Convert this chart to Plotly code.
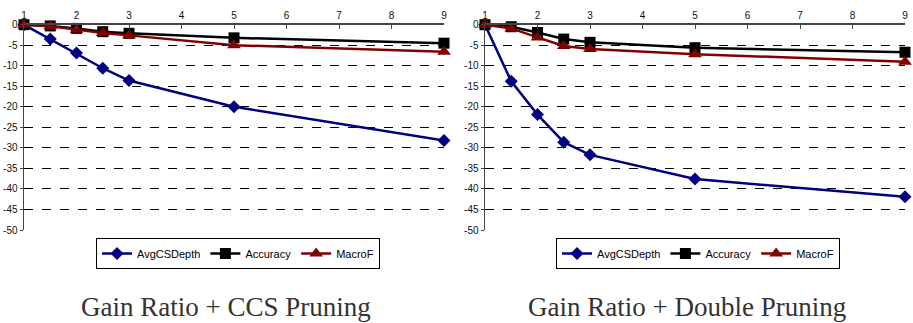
import plotly.graph_objects as go

x_vals = [1, 1.5, 2, 2.5, 3, 5, 9]
x_ticks = [1, 2, 3, 4, 5, 6, 7, 8, 9]
y_ticks = [0, -5, -10, -15, -20, -25, -30, -35, -40, -45, -50]

# Left: Gain Ratio + CCS Pruning
ccs_depth = [0, -3.5, -6.9, -10.6, -13.6, -20.0, -28.2]
ccs_acc = [0, -0.3, -0.9, -1.7, -2.1, -3.2, -4.5]
ccs_macro = [0, -0.4, -1.2, -2.0, -2.6, -5.0, -6.6]

# Right: Gain Ratio + Double Pruning
dbl_depth = [0, -13.8, -21.9, -28.6, -31.7, -37.6, -41.9]
dbl_acc = [0, -0.5, -1.9, -3.5, -4.3, -5.6, -6.7]
dbl_macro = [0, -0.9, -3.1, -5.2, -5.9, -7.2, -9.0]

titles = ["Gain Ratio + CCS Pruning", "Gain Ratio + Double Pruning"]
series_names = ["AvgCSDepth", "Accuracy", "MacroF"]
colors = ["#000080", "#000000", "#800000"]
symbols = ["diamond", "square", "triangle-up"]
msizes = [10, 11, 12]

W, H = 913, 323
fig = go.Figure()

panels = [
    dict(data=[ccs_depth, ccs_acc, ccs_macro], x0=24, x1=444, xa="x", ya="y", leg="legend", lx=96),
    dict(data=[dbl_depth, dbl_acc, dbl_macro], x0=485, x1=905, xa="x2", ya="y2", leg="legend2", lx=556),
]

for p in panels:
    for name, ys, c, s, ms in zip(series_names, p["data"], colors, symbols, msizes):
        fig.add_trace(go.Scatter(
            x=x_vals, y=ys, name=name, mode="lines+markers",
            line=dict(color=c, width=2.5),
            marker=dict(symbol=s, size=ms, color=c, line=dict(color=c, width=0)),
            xaxis=p["xa"], yaxis=p["ya"], legend=p["leg"], cliponaxis=False,
        ))

ytop = 1 - 24.7 / H
ybot = 1 - 230 / H
tickfont = dict(family="Liberation Sans, Arial", size=10, color="#111")

layout = dict(
    width=W, height=H, margin=dict(l=0, r=0, t=0, b=0, autoexpand=False),
    paper_bgcolor="white", plot_bgcolor="white", showlegend=True,
)

for i, p in enumerate(panels):
    sfx = "" if i == 0 else "2"
    layout["xaxis" + sfx] = dict(
        domain=[p["x0"] / W, p["x1"] / W], range=[1, 9], side="top",
        tickvals=x_ticks, ticktext=[str(v) for v in x_ticks],
        showline=True, linecolor="#444", linewidth=1.5, showgrid=False, zeroline=False,
        ticks="inside", ticklen=4, tickcolor="#444", tickfont=tickfont,
        anchor="y" + sfx, fixedrange=True, automargin=False,
    )
    layout["yaxis" + sfx] = dict(
        domain=[ybot, ytop], range=[-50, 0],
        tickvals=y_ticks, ticktext=[str(v) for v in y_ticks],
        showline=True, linecolor="#444", linewidth=1.5,
        showgrid=True, gridcolor="#000", gridwidth=1, griddash="dash", zeroline=False,
        ticks="outside", ticklen=3, tickcolor="#444", tickfont=tickfont,
        anchor="x" + sfx, fixedrange=True, automargin=False,
    )
    layout[p["leg"]] = dict(
        orientation="h", x=p["lx"] / W, y=1 - 238 / H, xanchor="left", yanchor="top",
        bordercolor="#000", borderwidth=1, bgcolor="white",
        font=dict(family="Liberation Sans, Arial", size=11, color="#000"),
        itemwidth=30, tracegroupgap=0,
    )

fig.update_layout(**layout)

for i, t in enumerate(titles):
    cx = [226, 687][i]
    fig.add_annotation(
        text=t, x=cx / W, y=1 - 307 / H, xref="paper", yref="paper",
        xanchor="center", yanchor="middle", showarrow=False,
        font=dict(family="Liberation Serif, Times New Roman, serif", size=27, color="#333"),
    )

fig.write_html(
    "out.html",
    config={"displayModeBar": False, "staticPlot": True},
    post_script="document.body.style.margin='0';document.body.style.padding='0';document.body.style.overflow='hidden';",
)
